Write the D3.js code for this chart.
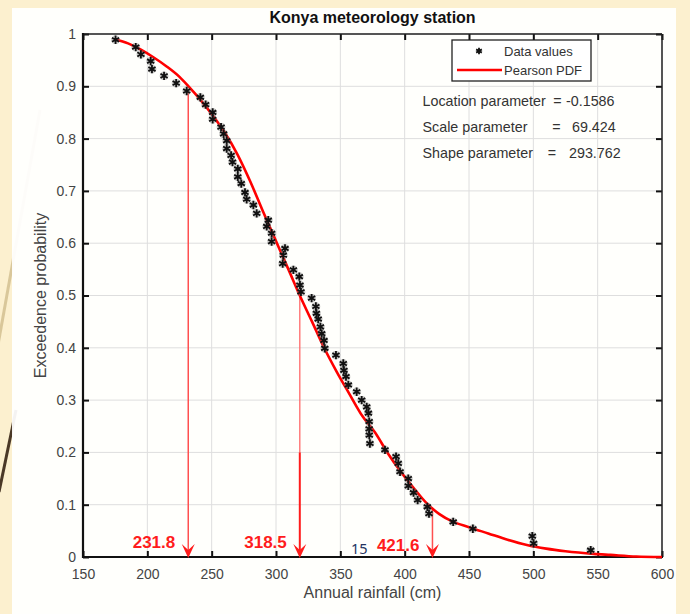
<!DOCTYPE html>
<html>
<head>
<meta charset="utf-8">
<script src="https://cdn.jsdelivr.net/npm/d3@7"></script>
<style>
body { margin: 0; background: #fcf0cf; }
svg { display: block; }
text { font-family: "Liberation Sans", Arial, sans-serif; }
</style>
</head>
<body>
<div id="chart"></div>
<script>
// observed points (annual rainfall, exceedence probability)
var dataX = [175.3, 191, 195, 202.6, 203.6, 213, 222.4, 230.6, 241.2, 245.3, 250.8, 250.8, 257.3, 259.3,
  261.7, 261.7, 265.1, 266.2, 270.3, 270.3, 273, 275.9, 277.2, 282.4, 285, 294, 292.8, 296.6, 296.6,
  307, 305.7, 305.2, 313.5, 318.1, 318.6, 319.4, 327.7, 331, 331.4, 332.8, 334.5, 335.5, 337.3, 337.9,
  346.6, 352.3, 352.8, 354.4, 356.2, 362.7, 366.6, 370.5, 371.8, 372.4, 372.4, 372.5, 373,
  384.7, 393.3, 395, 396.4, 402.8, 402.8, 406.9, 410.1, 417.6, 418.9, 437.7, 453, 499.2, 500.2, 544.6];
var dataP = [0.989, 0.975, 0.961, 0.948, 0.933, 0.920, 0.906, 0.891, 0.879, 0.865, 0.850, 0.837, 0.822, 0.809,
  0.796, 0.781, 0.768, 0.755, 0.742, 0.727, 0.714, 0.697, 0.684, 0.673, 0.657, 0.644, 0.632, 0.619, 0.603,
  0.590, 0.577, 0.561, 0.549, 0.536, 0.520, 0.507, 0.495, 0.479, 0.466, 0.455, 0.440, 0.427, 0.414, 0.399,
  0.386, 0.370, 0.357, 0.345, 0.329, 0.316, 0.300, 0.287, 0.275, 0.259, 0.245, 0.233, 0.217,
  0.205, 0.192, 0.179, 0.163, 0.150, 0.136, 0.123, 0.109, 0.096, 0.083, 0.067, 0.054, 0.040, 0.026, 0.013];

// fitted Pearson curve
var fitX = [175, 185, 195, 205, 215, 225, 232, 240, 250, 260, 270, 280, 290, 300, 310, 318.5, 328, 337,
  347, 357, 367, 377, 387, 397, 407, 417, 427, 437, 450, 465, 480, 495, 510, 525, 547, 560, 580, 600];
var fitP = [0.990, 0.982, 0.970, 0.955, 0.938, 0.918, 0.900, 0.878, 0.847, 0.812, 0.770, 0.718, 0.660, 0.604,
  0.548, 0.500, 0.450, 0.402, 0.355, 0.312, 0.270, 0.238, 0.198, 0.163, 0.132, 0.103, 0.082, 0.068,
  0.057, 0.045, 0.033, 0.023, 0.016, 0.011, 0.006, 0.004, 0.001, 0.000];

// arrows down to the x axis
var arrowX = [231.8, 318.5, 421.6];
var arrowP = [0.89, 0.505, 0.094];
var arrowLabels = ["231.8", "318.5", "421.6"];

var xTicks = [150, 200, 250, 300, 350, 400, 450, 500, 550, 600];
var yTicks = [0, 0.1, 0.2, 0.3, 0.4, 0.5, 0.6, 0.7, 0.8, 0.9, 1];
var yTickLabels = ["0", "0.1", "0.2", "0.3", "0.4", "0.5", "0.6", "0.7", "0.8", "0.9", "1"];

var paramNames = ["Location parameter", "Scale parameter", "Shape parameter"];
var paramValues = ["-0.1586", "69.424", "293.762"];

var W = 690, H = 614;
var svg = d3.select("#chart").append("svg").attr("width", W).attr("height", H);

// slide decoration
svg.append("path").attr("d", "M-2,345 L40,110").attr("stroke", "#d9c79a").attr("stroke-width", 3).attr("fill", "none");
svg.append("path").attr("d", "M-1,492 L16,410").attr("stroke", "#4a3826").attr("stroke-width", 3).attr("fill", "none");
svg.append("rect").attr("x", 12).attr("y", 8).attr("width", 664).attr("height", 606)
  .attr("fill", "#ffffff").attr("fill-opacity", 0.94);

var x = d3.scaleLinear().domain([150, 600]).range([83, 662]);
var y = d3.scaleLinear().domain([0, 1]).range([557, 34]);

// grid
var grid = svg.append("g").attr("class", "grid");
grid.selectAll(".gx").data(xTicks).enter().append("line")
  .attr("x1", d => x(d)).attr("x2", d => x(d)).attr("y1", y(0)).attr("y2", y(1))
  .attr("stroke", "#dedede").attr("stroke-width", 1);
grid.selectAll(".gy").data(yTicks).enter().append("line")
  .attr("x1", x(150)).attr("x2", x(600)).attr("y1", d => y(d)).attr("y2", d => y(d))
  .attr("stroke", "#dedede").attr("stroke-width", 1);

// axes with inward ticks
function styleAxis(g) {
  g.select(".domain").remove();
  g.selectAll(".tick line").attr("stroke", "#111").attr("stroke-width", 2);
  g.selectAll(".tick text").attr("fill", "#444").style("font-size", "14px")
    .style("font-family", "'Liberation Sans', Arial, sans-serif");
}
svg.append("g").attr("transform", "translate(0," + y(0) + ")")
  .call(d3.axisBottom(x).tickValues(xTicks).tickSize(-6).tickPadding(12)).call(styleAxis);
svg.append("g").attr("transform", "translate(0," + y(1) + ")")
  .call(d3.axisTop(x).tickValues(xTicks).tickSize(-6).tickFormat("")).call(styleAxis);
svg.append("g").attr("transform", "translate(" + x(150) + ",0)")
  .call(d3.axisLeft(y).tickValues(yTicks).tickSize(-6).tickPadding(7)
    .tickFormat((d, i) => yTickLabels[i])).call(styleAxis);
svg.append("g").attr("transform", "translate(" + x(600) + ",0)")
  .call(d3.axisRight(y).tickValues(yTicks).tickSize(-6).tickFormat("")).call(styleAxis);

// frame
svg.append("line").attr("x1", x(150)).attr("x2", x(600)).attr("y1", y(1)).attr("y2", y(1)).attr("stroke", "#222").attr("stroke-width", 1.5);
svg.append("line").attr("x1", x(600)).attr("x2", x(600)).attr("y1", y(1)).attr("y2", y(0)).attr("stroke", "#222").attr("stroke-width", 1.5);
svg.append("line").attr("x1", x(150)).attr("x2", x(150)).attr("y1", y(1) - 1).attr("y2", y(0) + 1).attr("stroke", "#111").attr("stroke-width", 2.2);
svg.append("line").attr("x1", x(150) - 1).attr("x2", x(600) + 1).attr("y1", y(0)).attr("y2", y(0)).attr("stroke", "#111").attr("stroke-width", 2.2);

// arrows
var red = "#ff1c1c";
var arrows = svg.append("g");
arrowX.forEach(function (v, i) {
  var top = y(arrowP[i]);
  if (i === 1) {
    arrows.append("line").attr("x1", x(v)).attr("x2", x(v)).attr("y1", top).attr("y2", y(0.2))
      .attr("stroke", "#ff6a6a").attr("stroke-width", 1.3);
    arrows.append("line").attr("x1", x(v)).attr("x2", x(v)).attr("y1", y(0.2)).attr("y2", y(0) - 6)
      .attr("stroke", red).attr("stroke-width", 2);
  } else {
    arrows.append("line").attr("x1", x(v)).attr("x2", x(v)).attr("y1", top).attr("y2", y(0) - 6)
      .attr("stroke", "#ff5050").attr("stroke-width", 1.5);
  }
  arrows.append("path")
    .attr("d", "M0,0 L-6.5,-14 L0,-8 L6.5,-14 Z")
    .attr("transform", "translate(" + x(v) + "," + (y(0) + 1) + ")")
    .attr("fill", red);
  arrows.append("text").attr("x", x(v) - 13).attr("y", y(0) - (i === 2 ? 6.5 : 9))
    .attr("text-anchor", "end").attr("fill", red)
    .style("font-size", "17px").style("font-weight", "bold").text(arrowLabels[i]);
});

// slide number
svg.append("text").attr("x", 351).attr("y", 553.5).attr("fill", "#23335f")
  .style("font-family", "'Noto Sans', sans-serif").style("font-size", "14.5px").text("15");

// fitted curve
var line = d3.line().x((d, i) => x(fitX[i])).y((d, i) => y(fitP[i])).curve(d3.curveMonotoneX);
svg.append("path").datum(fitX).attr("d", line).attr("fill", "none")
  .attr("stroke", "#ff0000").attr("stroke-width", 2.6);

// data markers
var star = d3.symbol().type(d3.symbolAsterisk).size(48);
var pts = svg.append("g");
pts.selectAll(".halo").data(dataX).enter().append("path")
  .attr("d", star).attr("transform", (d, i) => "translate(" + x(d) + "," + y(dataP[i]) + ")")
  .attr("stroke", "#777").attr("stroke-opacity", 0.4).attr("stroke-width", 4).attr("fill", "none");
pts.selectAll(".pt").data(dataX).enter().append("path")
  .attr("d", star).attr("transform", (d, i) => "translate(" + x(d) + "," + y(dataP[i]) + ")")
  .attr("stroke", "#111").attr("stroke-width", 1.8).attr("fill", "none");

// title and axis labels
svg.append("text").attr("x", 372.5).attr("y", 22.5).attr("text-anchor", "middle")
  .style("font-size", "16px").style("font-weight", "bold").attr("fill", "#111")
  .text("Konya meteorology station");
svg.append("text").attr("x", 372.5).attr("y", 598).attr("text-anchor", "middle")
  .style("font-size", "16px").attr("fill", "#444").text("Annual rainfall (cm)");
svg.append("text").attr("transform", "translate(46,295.5) rotate(-90)").attr("text-anchor", "middle")
  .style("font-size", "16px").attr("fill", "#444").text("Exceedence probability");

// legend
var lg = svg.append("g");
lg.append("rect").attr("x", 452).attr("y", 40).attr("width", 139).attr("height", 41)
  .attr("fill", "#fff").attr("stroke", "#222").attr("stroke-width", 1.3);
lg.append("path").attr("d", d3.symbol().type(d3.symbolAsterisk).size(30))
  .attr("transform", "translate(479,51)").attr("stroke", "#111").attr("stroke-width", 1.8);
lg.append("line").attr("x1", 457).attr("x2", 502).attr("y1", 70).attr("y2", 70)
  .attr("stroke", "#ff0000").attr("stroke-width", 2.6);
lg.append("text").attr("x", 504).attr("y", 56).style("font-size", "13px").attr("fill", "#333").text("Data values");
lg.append("text").attr("x", 504).attr("y", 75).style("font-size", "13px").attr("fill", "#333").text("Pearson PDF");

// parameters
var eqX = [557.5, 556.5, 552];
var valX = [566, 572, 569];
var rowY = [106, 132, 157.5];
var pg = svg.append("g").style("font-size", "14.3px").attr("fill", "#333");
paramNames.forEach(function (n, i) {
  pg.append("text").attr("x", 422.5).attr("y", rowY[i]).text(n);
  pg.append("text").attr("x", eqX[i]).attr("y", rowY[i]).attr("text-anchor", "middle").text("=");
  pg.append("text").attr("x", valX[i]).attr("y", rowY[i]).text(paramValues[i]);
});
</script>
</body>
</html>
